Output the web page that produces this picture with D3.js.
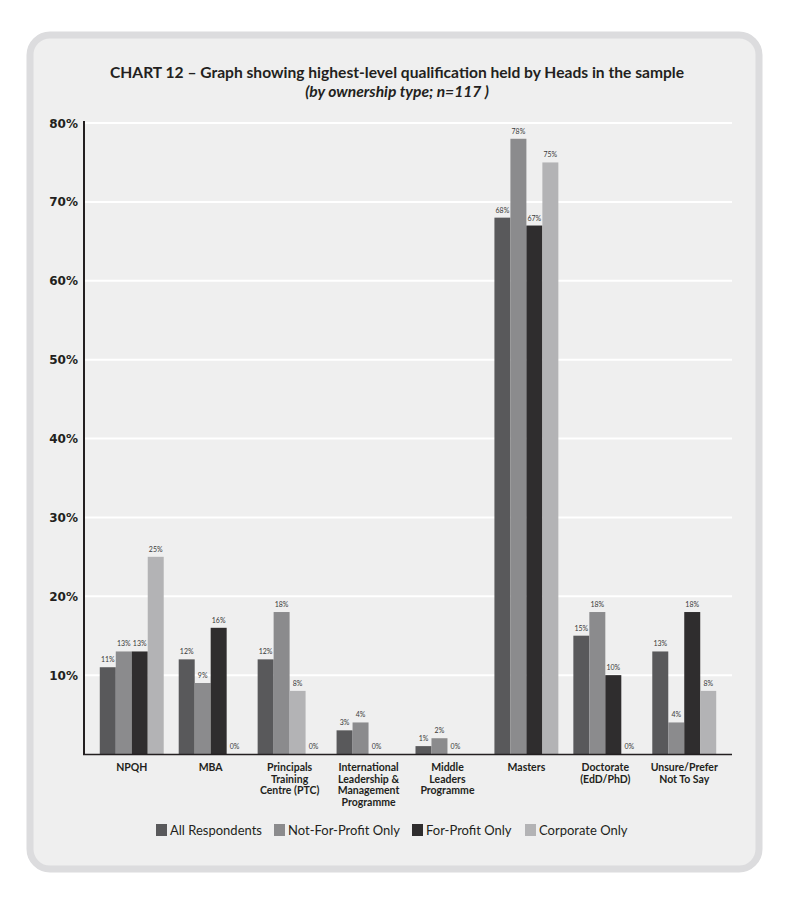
<!DOCTYPE html>
<html><head><meta charset="utf-8">
<script src="https://cdn.jsdelivr.net/npm/d3@7"></script>
<style>body{margin:0;background:#fff}</style>
</head><body>
<svg id="c" width="800" height="900"></svg>
<script>
const categories = [
  ["NPQH"], ["MBA"], ["Principals","Training","Centre (PTC)"],
  ["International","Leadership &","Management","Programme"],
  ["Middle","Leaders","Programme"], ["Masters"], ["Doctorate","(EdD/PhD)"],
  ["Unsure/Prefer","Not To Say"]
];
const seriesNames = ["All Respondents","Not-For-Profit Only","For-Profit Only","Corporate Only"];
// values per category, in the order the bars are drawn within each group
const groups = [
  [11,13,13,25],
  [12,9,16,0],
  [12,18,8,0],
  [3,4,0,null],
  [1,2,0,null],
  [68,78,67,75],
  [15,18,10,0],
  [13,4,18,8]
];
// series (colour) index of each bar within a group
const colorIdx = [
  [0,1,2,3],[0,1,2,3],[0,1,3,2],[0,1,2,3],[0,1,2,3],[0,1,2,3],[0,1,2,3],[0,1,2,3]
];
const yTicks = [10,20,30,40,50,60,70,80];
const colors = ["#59595b","#8b8b8d","#2f2d2e","#b3b3b5"];

const svg = d3.select("#c");
svg.append("rect").attr("x",30).attr("y",35).attr("width",729).attr("height",834)
  .attr("rx",20).attr("fill","#efefef").attr("stroke","#dcdcde").attr("stroke-width",7);

svg.append("text").attr("x",397).attr("y",78).attr("text-anchor","middle")
  .attr("font-family","Lato").attr("font-weight","bold").attr("font-size",15.6).attr("fill","#231f20")
  .text("CHART 12 – Graph showing highest-level qualification held by Heads in the sample");
svg.append("text").attr("x",397).attr("y",97).attr("text-anchor","middle")
  .attr("font-family","Lato").attr("font-weight","bold").attr("font-style","italic").attr("font-size",15.6).attr("fill","#231f20")
  .text("(by ownership type; n=117 )");

const y = d3.scaleLinear().domain([0,80]).range([754,123]);
const x = d3.scaleBand().domain(d3.range(categories.length)).range([84,732]).paddingInner(0.19).paddingOuter(0.2);
const xs = d3.scaleBand().domain(d3.range(4)).range([0,x.bandwidth()]);

// grid
svg.append("g").selectAll("line").data(yTicks).join("line")
  .attr("x1",84).attr("x2",732).attr("y1",d=>y(d)).attr("y2",d=>y(d))
  .attr("stroke","#ffffff").attr("stroke-width",2);

// y labels
svg.append("g").selectAll("text").data(yTicks).join("text")
  .attr("x",78).attr("y",d=>y(d)+4.5).attr("text-anchor","end")
  .attr("font-family","DejaVu Sans").attr("font-weight","bold").attr("font-size",12).attr("fill","#231f20")
  .text(d=>d+"%");

// bars
const g = svg.append("g").selectAll("g").data(groups).join("g")
  .attr("transform",(d,i)=>`translate(${x(i)},0)`);
g.each(function(vals,gi){
  const sel = d3.select(this);
  vals.forEach((v,j)=>{
    if(v===null) return;
    if(v>0){
      sel.append("rect").attr("x",xs(j)).attr("y",y(v)).attr("width",xs.bandwidth())
        .attr("height",y(0)-y(v)).attr("fill",colors[colorIdx[gi][j]]);
    }
    sel.append("text").attr("x",xs(j)+xs.bandwidth()/2).attr("y",v>0?y(v)-5:y(0)-5)
      .attr("text-anchor","middle").attr("font-family","Lato").attr("font-size",7).attr("fill","#3a3a3a")
      .text(v+"%");
  });
});

// axes lines
svg.append("line").attr("x1",84).attr("x2",84).attr("y1",121).attr("y2",755).attr("stroke","#231f20").attr("stroke-width",2);
svg.append("line").attr("x1",83).attr("x2",732).attr("y1",754.5).attr("y2",754.5).attr("stroke","#231f20").attr("stroke-width",1.5);

// category labels
svg.append("g").selectAll("text").data(categories).join("text")
  .attr("x",(d,i)=>x(i)+x.bandwidth()/2).attr("y",771)
  .attr("text-anchor","middle").attr("font-family","Lato").attr("font-weight","bold").attr("font-size",10.5).attr("fill","#231f20")
  .each(function(lines){
    const t = d3.select(this);
    lines.forEach((l,k)=>t.append("tspan").attr("x",t.attr("x")).attr("dy",k?11.5:0).text(l));
  });

// legend
const legX = [156,274,412,525];
const lg = svg.append("g").selectAll("g").data(seriesNames).join("g")
  .attr("transform",(d,i)=>`translate(${legX[i]},824)`);
lg.append("rect").attr("width",11).attr("height",12).attr("fill",(d,i)=>colors[i]);
lg.append("text").attr("x",14).attr("y",11).attr("font-family","Lato").attr("font-size",13).attr("fill","#231f20").text(d=>d);
</script>
</body></html>
